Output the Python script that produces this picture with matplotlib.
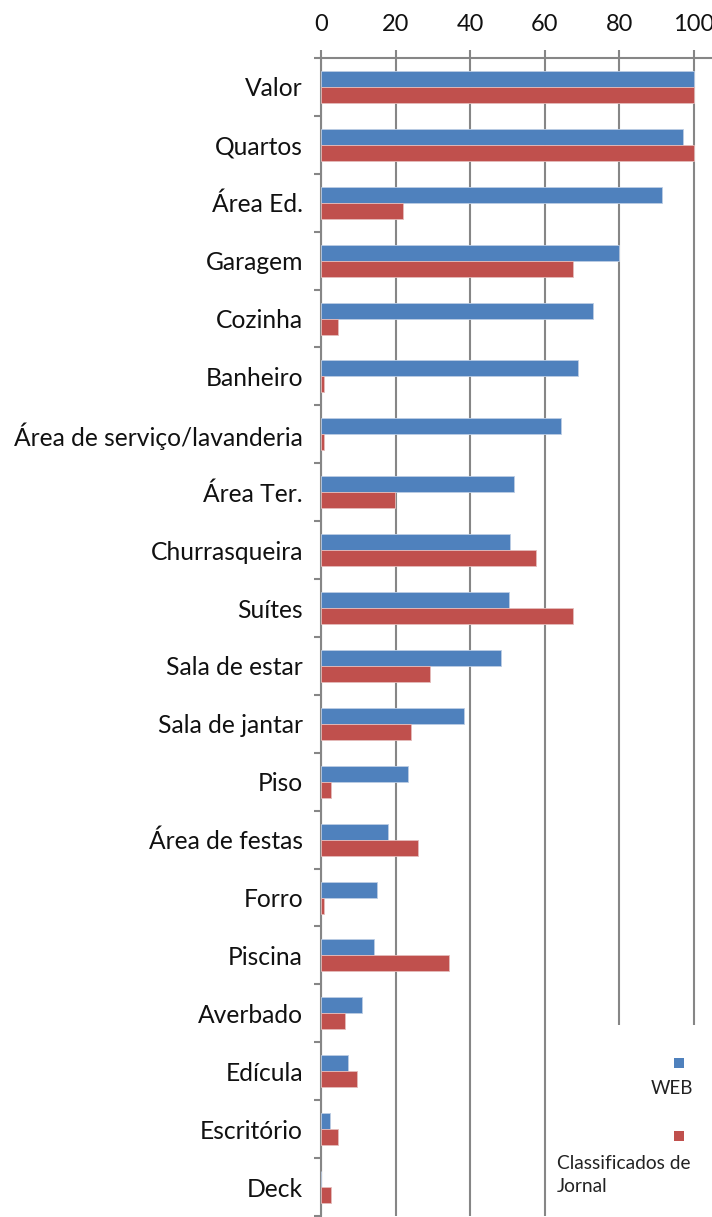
import numpy as np
import matplotlib
matplotlib.use('Agg')
import matplotlib.pyplot as plt
from matplotlib.patches import Rectangle

categorias = ['Valor', 'Quartos', 'Área Ed.', 'Garagem', 'Cozinha', 'Banheiro',
              'Área de serviço/lavanderia', 'Área Ter.', 'Churrasqueira', 'Suítes',
              'Sala de estar', 'Sala de jantar', 'Piso', 'Área de festas', 'Forro',
              'Piscina', 'Averbado', 'Edícula', 'Escritório', 'Deck']
web = [100, 97.1, 91.4, 80.0, 73.0, 68.9, 64.4, 51.7, 50.7, 50.4,
       48.3, 38.4, 23.4, 17.9, 15.1, 14.1, 11.1, 7.3, 2.5, 0.0]
jornal = [100, 100, 22.0, 67.5, 4.6, 0.7, 0.7, 19.9, 57.5, 67.5,
          29.1, 24.0, 2.8, 26.1, 0.7, 34.3, 6.5, 9.7, 4.6, 2.8]
xticks = [0, 20, 40, 60, 80, 100]

azul = '#4F81BD'
vermelho = '#C0504D'
cinza = '#868686'

plt.rcParams['font.family'] = ['Lato', 'DejaVu Sans']

W, H = 712, 1217
fig = plt.figure(figsize=(W / 100, H / 100), dpi=100)
ax = fig.add_axes([321 / W, 1 - 1216 / H, 1 - 321 / W, (1216 - 58) / H])

y = np.arange(len(categorias))
h = 0.277
ax.barh(y - h / 2, web, height=h, color=azul, edgecolor='#BCCDE4', linewidth=0.6, zorder=3, label='WEB')
ax.barh(y + h / 2, jornal, height=h, color=vermelho, edgecolor='#E4BCBB', linewidth=0.6, zorder=3,
        label='Classificados de\nJornal')

ax.set_ylim(len(categorias) - 0.5, -0.5)
ax.set_xlim(0, 104.8)

ax.set_yticks(y)
ax.set_yticklabels(categorias, fontsize=17.7, color='#111111')
ax.set_yticks(np.arange(len(categorias) + 1) - 0.5, minor=True)
ax.tick_params(axis='y', which='major', length=0, pad=13)
ax.tick_params(axis='y', which='minor', length=5, width=1.5, color=cinza, direction='out')

ax.xaxis.tick_top()
ax.set_xticks(xticks)
ax.tick_params(axis='x', which='major', length=5.5, width=1.5, color=cinza, labelsize=17, pad=11,
               labelcolor='#111111')

ax.set_axisbelow(True)
ax.grid(axis='x', color=cinza, linewidth=1.5, zorder=0)

for s in ['right', 'bottom']:
    ax.spines[s].set_visible(False)
for s in ['left', 'top']:
    ax.spines[s].set_color(cinza)
    ax.spines[s].set_linewidth(1.5)

# caixa da legenda (cobre as linhas de grade no canto)
fig.add_artist(Rectangle((552 / W, 0), 1, (H - 1025) / H, transform=fig.transFigure,
                         facecolor='white', edgecolor='none', zorder=2))
fig.add_artist(Rectangle((674 / W, 1 - 1068 / H), 10 / W, 10 / H, transform=fig.transFigure,
                         facecolor=azul, edgecolor='none', zorder=3))
fig.add_artist(Rectangle((674 / W, 1 - 1141 / H), 10 / W, 10 / H, transform=fig.transFigure,
                         facecolor=vermelho, edgecolor='none', zorder=3))
fig.text(693 / W, 1 - 1088 / H, 'WEB', ha='right', va='center', fontsize=13.5, color='#222222', zorder=4)
fig.text(557 / W, 1 - 1175 / H, 'Classificados de\nJornal', ha='left', va='center', fontsize=13.8,
         color='#222222', linespacing=1.45, zorder=4)

fig.savefig('out.png', dpi=100)
